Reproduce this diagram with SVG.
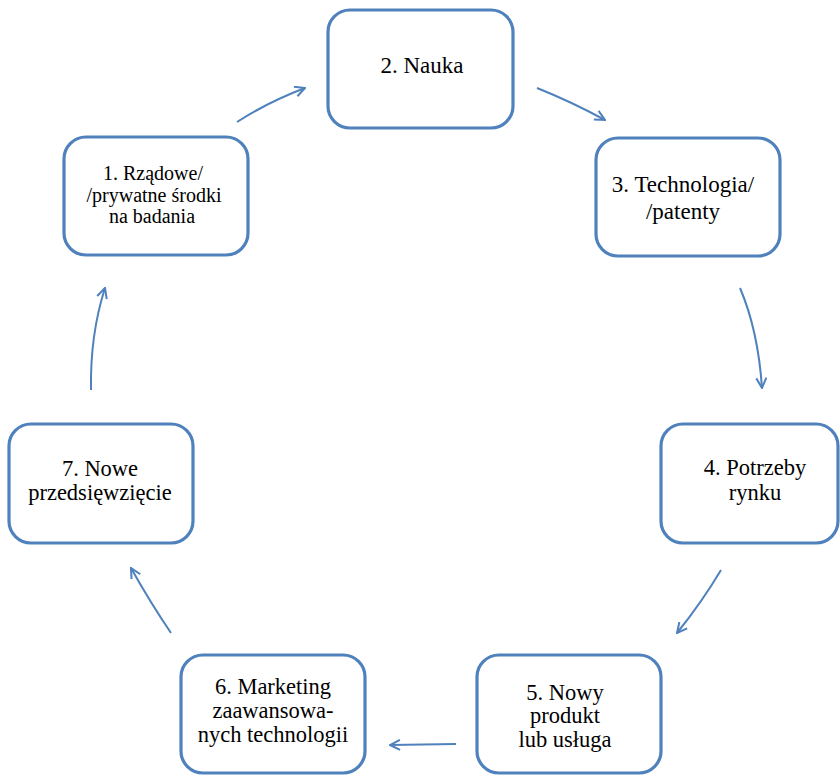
<svg xmlns="http://www.w3.org/2000/svg" width="840" height="776" viewBox="0 0 840 776">
<style>
.box{fill:#fff;stroke:#4f81bd;stroke-width:3.2}
.t{font-family:'Liberation Serif','Times New Roman',serif;font-size:22.5px;text-anchor:middle;fill:#000}
.c{fill:none;stroke:#4f81bd;stroke-width:2;marker-end:url(#ah)}
</style>
<defs>
<marker id="ah" viewBox="0 0 12 12" refX="11" refY="6" markerWidth="12" markerHeight="12" markerUnits="userSpaceOnUse" orient="auto">
<path d="M1,1 L11,6 L1,11" fill="none" stroke="#4f81bd" stroke-width="2"/>
</marker>
</defs>
<g id="connectors">
<path class="c" d="M237,122 Q268,102 305,88"/>
<path class="c" d="M537,88 Q572,102 605,120"/>
<path class="c" d="M740,288 Q758,330 762,388"/>
<path class="c" d="M721,570 Q702,602 677,633"/>
<path class="c" d="M456,744 L390,745"/>
<path class="c" d="M171,633 Q150,602 131,568"/>
<path class="c" d="M91,390 Q90,335 105,288"/>
</g>
<g id="n1"><rect class="box" x="64" y="137" width="184" height="118" rx="22"/>
<text class="t" style="font-size:20px" x="153" y="180">1. Rządowe/</text><text class="t" style="font-size:20px" x="154" y="202">/prywatne środki</text><text class="t" style="font-size:20px" x="152" y="223">na badania</text></g>
<g id="n2"><rect class="box" x="328" y="10" width="185" height="118" rx="22"/>
<text class="t" style="font-size:23px" x="422" y="73">2. Nauka</text></g>
<g id="n3"><rect class="box" x="596" y="138" width="184" height="118" rx="22"/>
<text class="t" style="font-size:23px" x="683" y="192">3. Technologia/</text><text class="t" style="font-size:23px" x="683" y="219">/patenty</text></g>
<g id="n4"><rect class="box" x="661" y="424" width="177" height="119" rx="22"/>
<text class="t" x="755" y="475">4. Potrzeby</text><text class="t" x="755" y="500">rynku</text></g>
<g id="n5"><rect class="box" x="477" y="655" width="184" height="118" rx="22"/>
<text class="t" x="565" y="700">5. Nowy</text><text class="t" x="565" y="723">produkt</text><text class="t" x="565" y="747">lub usługa</text></g>
<g id="n6"><rect class="box" x="181" y="655" width="184" height="118" rx="22"/>
<text class="t" x="273" y="694">6. Marketing</text><text class="t" x="273" y="718">zaawansowa-</text><text class="t" x="273" y="742">nych technologii</text></g>
<g id="n7"><rect class="box" x="9" y="424" width="184" height="119" rx="22"/>
<text class="t" x="100" y="476">7. Nowe</text><text class="t" x="100" y="500">przedsięwzięcie</text></g>
</svg>
